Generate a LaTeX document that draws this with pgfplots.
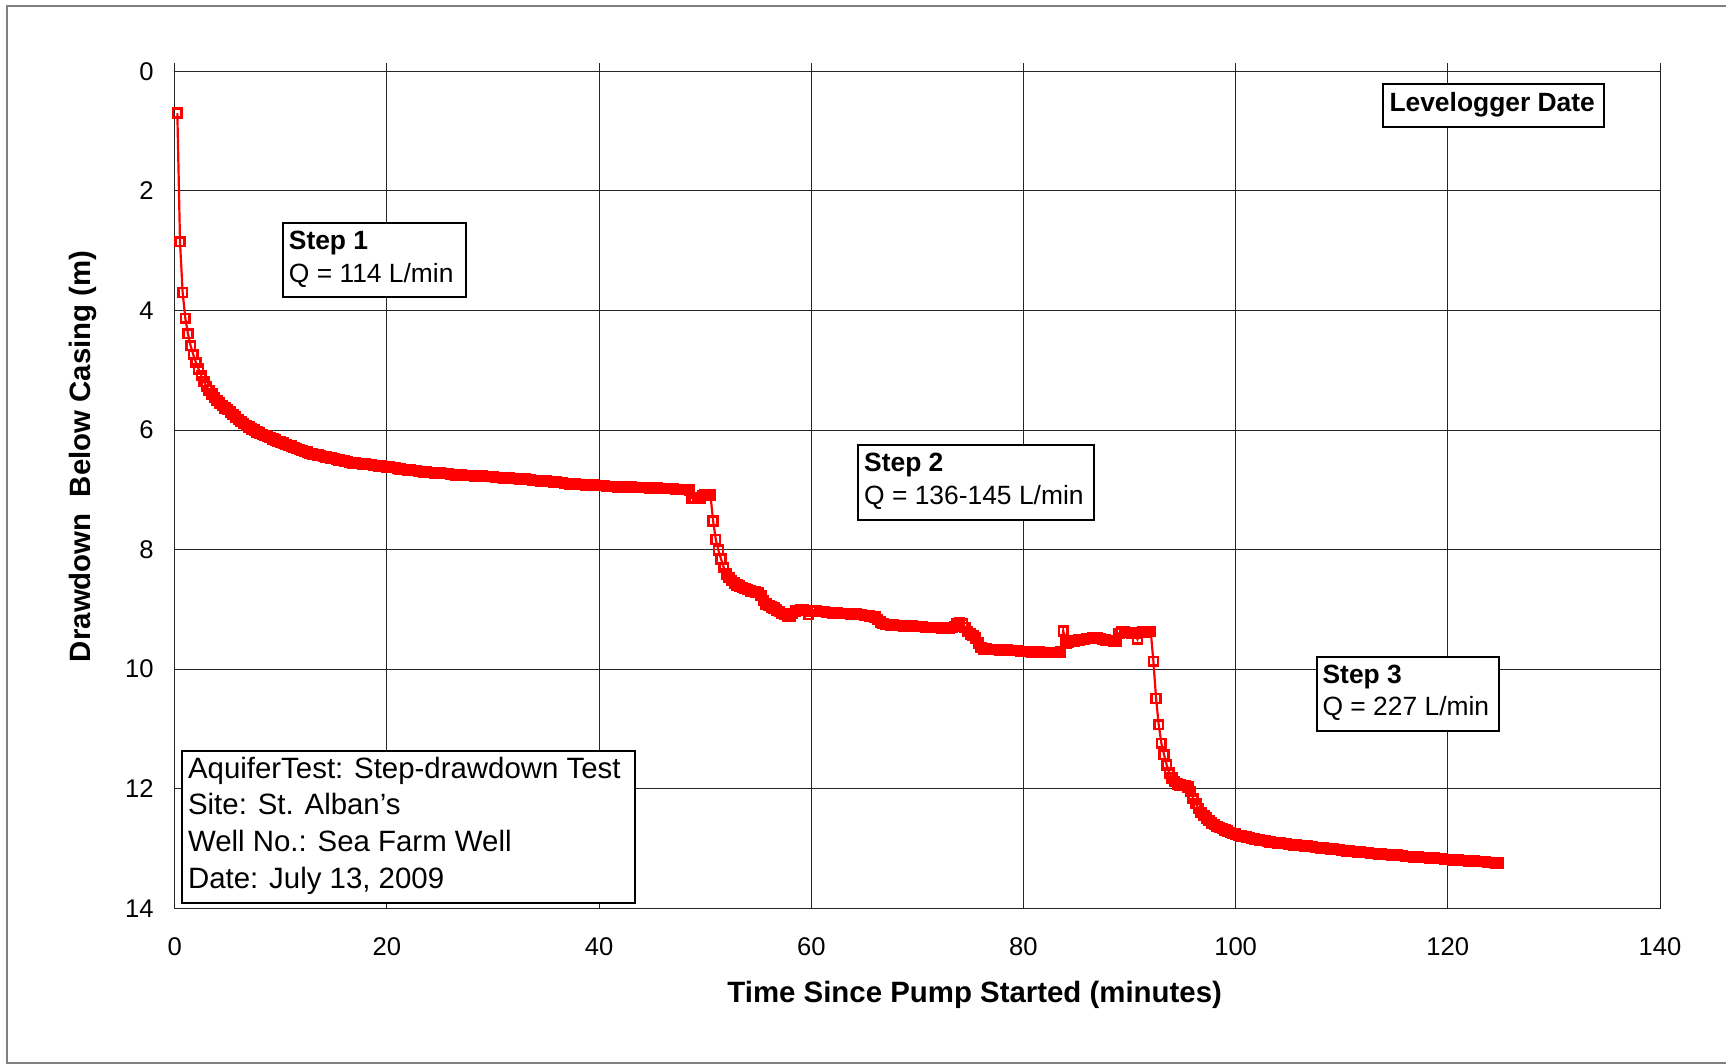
\documentclass[border=0pt]{standalone}
\usepackage{fontspec}
\setmainfont{Liberation Sans}
\usepackage{pgfplots}
\usepackage{pgfplotstable}
\pgfplotsset{compat=1.18}

\pgfplotstableread{
t d
0.25 0.70
0.50 2.85
0.75 3.70
1.00 4.13
1.25 4.39
1.50 4.59
1.75 4.74
2.00 4.87
2.25 4.98
2.50 5.09
2.75 5.19
3.00 5.27
3.25 5.34
3.50 5.40
3.75 5.46
4.00 5.51
4.25 5.55
4.50 5.59
4.75 5.63
5.00 5.66
5.25 5.70
5.50 5.74
5.75 5.78
6.00 5.82
6.25 5.86
6.50 5.89
6.75 5.92
7.00 5.95
7.25 5.98
7.50 6.00
7.75 6.03
8.00 6.05
8.25 6.07
8.50 6.09
8.75 6.11
9.00 6.13
9.25 6.15
9.50 6.17
9.75 6.19
10.00 6.20
10.25 6.22
10.50 6.24
10.75 6.26
11.00 6.27
11.25 6.29
11.50 6.31
11.75 6.33
12.00 6.34
12.25 6.36
12.50 6.37
12.75 6.39
13.00 6.40
13.25 6.41
13.50 6.42
13.75 6.43
14.00 6.44
14.25 6.45
14.50 6.46
14.75 6.47
15.00 6.48
15.25 6.49
15.50 6.50
15.75 6.51
16.00 6.52
16.25 6.53
16.50 6.54
16.75 6.55
17.00 6.55
17.25 6.56
17.50 6.56
17.75 6.57
18.00 6.57
18.25 6.58
18.50 6.58
18.75 6.59
19.00 6.59
19.25 6.60
19.50 6.60
19.75 6.61
20.00 6.62
20.25 6.62
20.50 6.63
20.75 6.63
21.00 6.64
21.25 6.65
21.50 6.66
21.75 6.66
22.00 6.67
22.25 6.67
22.50 6.68
22.75 6.68
23.00 6.69
23.25 6.69
23.50 6.70
23.75 6.70
24.00 6.71
24.25 6.71
24.50 6.72
24.75 6.72
25.00 6.72
25.25 6.73
25.50 6.73
25.75 6.73
26.00 6.74
26.25 6.74
26.50 6.75
26.75 6.75
27.00 6.75
27.25 6.76
27.50 6.76
27.75 6.76
28.00 6.76
28.25 6.77
28.50 6.77
28.75 6.77
29.00 6.77
29.25 6.78
29.50 6.78
29.75 6.78
30.00 6.78
30.25 6.79
30.50 6.79
30.75 6.79
31.00 6.80
31.25 6.80
31.50 6.80
31.75 6.81
32.00 6.81
32.25 6.81
32.50 6.82
32.75 6.82
33.00 6.82
33.25 6.83
33.50 6.83
33.75 6.84
34.00 6.84
34.25 6.84
34.50 6.85
34.75 6.85
35.00 6.85
35.25 6.86
35.50 6.86
35.75 6.87
36.00 6.87
36.25 6.88
36.50 6.88
36.75 6.89
37.00 6.89
37.25 6.90
37.50 6.90
37.75 6.90
38.00 6.91
38.25 6.91
38.50 6.91
38.75 6.92
39.00 6.92
39.25 6.92
39.50 6.92
39.75 6.93
40.00 6.93
40.25 6.93
40.50 6.93
40.75 6.94
41.00 6.94
41.25 6.94
41.50 6.94
41.75 6.95
42.00 6.95
42.25 6.95
42.50 6.95
42.75 6.95
43.00 6.95
43.25 6.96
43.50 6.96
43.75 6.96
44.00 6.96
44.25 6.96
44.50 6.96
44.75 6.97
45.00 6.97
45.25 6.97
45.50 6.97
45.75 6.98
46.00 6.98
46.25 6.98
46.50 6.98
46.75 6.98
47.00 6.98
47.25 6.99
47.50 6.99
47.75 6.99
48.00 6.99
48.25 6.99
48.50 7.00
48.75 7.14
49.00 7.15
49.25 7.15
49.50 7.14
49.75 7.10
50.00 7.09
50.25 7.09
50.50 7.09
50.75 7.52
51.00 7.83
51.25 8.01
51.50 8.16
51.75 8.30
52.00 8.41
52.25 8.47
52.50 8.52
52.75 8.56
53.00 8.59
53.25 8.61
53.50 8.63
53.75 8.65
54.00 8.67
54.25 8.69
54.50 8.70
54.75 8.71
55.00 8.72
55.25 8.77
55.50 8.85
55.75 8.91
56.00 8.94
56.25 8.96
56.50 8.98
56.75 9.01
57.00 9.04
57.25 9.07
57.50 9.09
57.75 9.11
58.00 9.11
58.25 9.07
58.50 9.03
58.75 9.02
59.00 9.01
59.25 9.01
59.50 9.02
59.75 9.09
60.00 9.03
60.25 9.03
60.50 9.03
60.75 9.04
61.00 9.04
61.25 9.04
61.50 9.05
61.75 9.05
62.00 9.06
62.25 9.06
62.50 9.06
62.75 9.07
63.00 9.07
63.25 9.07
63.50 9.07
63.75 9.08
64.00 9.08
64.25 9.08
64.50 9.09
64.75 9.09
65.00 9.10
65.25 9.10
65.50 9.11
65.75 9.12
66.00 9.13
66.25 9.17
66.50 9.21
66.75 9.24
67.00 9.25
67.25 9.25
67.50 9.26
67.75 9.26
68.00 9.27
68.25 9.27
68.50 9.27
68.75 9.28
69.00 9.28
69.25 9.28
69.50 9.28
69.75 9.29
70.00 9.29
70.25 9.29
70.50 9.29
70.75 9.30
71.00 9.30
71.25 9.30
71.50 9.30
71.75 9.30
72.00 9.30
72.25 9.31
72.50 9.31
72.75 9.31
73.00 9.31
73.25 9.30
73.50 9.29
73.75 9.24
74.00 9.22
74.25 9.24
74.50 9.30
74.75 9.37
75.00 9.41
75.25 9.44
75.50 9.48
75.75 9.56
76.00 9.64
76.25 9.66
76.50 9.66
76.75 9.67
77.00 9.67
77.25 9.67
77.50 9.67
77.75 9.68
78.00 9.68
78.25 9.68
78.50 9.68
78.75 9.69
79.00 9.69
79.25 9.69
79.50 9.69
79.75 9.70
80.00 9.70
80.25 9.70
80.50 9.70
80.75 9.71
81.00 9.71
81.25 9.71
81.50 9.71
81.75 9.72
82.00 9.72
82.25 9.72
82.50 9.72
82.75 9.72
83.00 9.72
83.25 9.72
83.50 9.71
83.75 9.36
84.00 9.56
84.25 9.55
84.50 9.54
84.75 9.53
85.00 9.52
85.25 9.51
85.50 9.50
85.75 9.50
86.00 9.49
86.25 9.49
86.50 9.48
86.75 9.48
87.00 9.48
87.25 9.49
87.50 9.50
87.75 9.51
88.00 9.52
88.25 9.52
88.50 9.53
88.75 9.53
89.00 9.40
89.25 9.38
89.50 9.38
89.75 9.39
90.00 9.39
90.25 9.40
90.50 9.40
90.75 9.50
91.00 9.39
91.25 9.38
91.50 9.38
91.75 9.37
92.00 9.37
92.25 9.87
92.50 10.49
92.75 10.93
93.00 11.24
93.25 11.43
93.50 11.60
93.75 11.74
94.00 11.82
94.25 11.88
94.50 11.92
94.75 11.94
95.00 11.95
95.25 11.95
95.50 11.97
95.75 12.05
96.00 12.16
96.25 12.25
96.50 12.33
96.75 12.40
97.00 12.45
97.25 12.49
97.50 12.53
97.75 12.57
98.00 12.60
98.25 12.63
98.50 12.65
98.75 12.67
99.00 12.69
99.25 12.71
99.50 12.73
99.75 12.75
100.00 12.76
100.25 12.78
100.50 12.79
100.75 12.80
101.00 12.81
101.25 12.82
101.50 12.83
101.75 12.84
102.00 12.85
102.25 12.86
102.50 12.87
102.75 12.87
103.00 12.88
103.25 12.89
103.50 12.90
103.75 12.90
104.00 12.91
104.25 12.91
104.50 12.92
104.75 12.92
105.00 12.93
105.25 12.93
105.50 12.94
105.75 12.94
106.00 12.95
106.25 12.95
106.50 12.96
106.75 12.96
107.00 12.97
107.25 12.97
107.50 12.98
107.75 12.98
108.00 12.99
108.25 12.99
108.50 13.00
108.75 13.00
109.00 13.01
109.25 13.01
109.50 13.02
109.75 13.02
110.00 13.03
110.25 13.03
110.50 13.04
110.75 13.04
111.00 13.05
111.25 13.05
111.50 13.06
111.75 13.06
112.00 13.07
112.25 13.07
112.50 13.07
112.75 13.08
113.00 13.08
113.25 13.08
113.50 13.09
113.75 13.09
114.00 13.10
114.25 13.10
114.50 13.10
114.75 13.11
115.00 13.11
115.25 13.11
115.50 13.12
115.75 13.12
116.00 13.13
116.25 13.13
116.50 13.13
116.75 13.14
117.00 13.14
117.25 13.14
117.50 13.15
117.75 13.15
118.00 13.15
118.25 13.16
118.50 13.16
118.75 13.16
119.00 13.17
119.25 13.17
119.50 13.17
119.75 13.18
120.00 13.18
120.25 13.18
120.50 13.19
120.75 13.19
121.00 13.19
121.25 13.20
121.50 13.20
121.75 13.20
122.00 13.21
122.25 13.21
122.50 13.21
122.75 13.22
123.00 13.22
123.25 13.22
123.50 13.22
123.75 13.23
124.00 13.23
124.25 13.23
124.50 13.24
124.75 13.24
}\drawdown

\begin{document}
\begin{tikzpicture}
% pixel frame: 1 px = 0.5pt, origin at top-left of the image
\begin{scope}[xshift=-87.35pt, yshift=454.15pt, x=0.5pt, y=-0.5pt]
\useasboundingbox (0,0) rectangle (1726,1064);
\fill[white] (0,0) rectangle (1726,1064);
\draw[line width=1pt, black!50] (6.7,6) rectangle (1780,1063);
\end{scope}

\begin{axis}[
  at={(0,0)}, anchor=south west,
  scale only axis, width=742.65pt, height=418.5pt,
  xmin=0, xmax=140, ymin=0, ymax=14,
  y dir=reverse,
  xtick={0,20,...,140}, ytick={0,2,...,14},
  grid=major,
  major grid style={black!85, line width=0.5pt},
  axis line style={black!85, line width=0.5pt},
  tick style={draw=none},
  clip=false,
  /pgf/number format/assume math mode=true,
  ticklabel style={font=\fontsize{12.8pt}{15pt}\selectfont},
  xticklabel style={anchor=center, inner sep=0pt, yshift=-19.2pt},
  yticklabel style={anchor=east, inner sep=0pt, xshift=-10.35pt},
]
\addplot[red, line width=1.1pt, mark=square, mark size=2.2pt,
  mark options={line width=1.3pt, solid}] table[x=t, y=d] {\drawdown};
\end{axis}

\begin{scope}[xshift=-87.35pt, yshift=454.15pt, x=0.5pt, y=-0.5pt]
% x tick marks above top axis
\foreach \k in {0,...,7} {
  \draw[black!85, line width=0.5pt] ({174.7+212.19*\k},71.3) -- ({174.7+212.19*\k},63);
}
% axis titles
\node[font=\fontsize{14.7pt}{17pt}\selectfont\bfseries, inner sep=0pt] at (974.7,995) {Time Since Pump Started (minutes)};
\node[font=\fontsize{14.7pt}{17pt}\selectfont\bfseries, inner sep=0pt, rotate=90] at (82.6,456.2) {Drawdown\ \ Below Casing (m)};
% boxes
\tikzset{bx/.style={draw=black, line width=1pt, fill=white},
  stp/.style={anchor=base west, inner sep=0pt, font=\fontsize{13.2pt}{16pt}\selectfont},
  inf/.style={anchor=base west, inner sep=0pt, font=\fontsize{14.7pt}{18pt}\selectfont}}
\draw[bx] (1382.5,84.3) rectangle (1604.3,126.7);
\node[stp, font=\fontsize{13.2pt}{16pt}\selectfont\bfseries] at (1389.1,111.7) {Levelogger Date};
\draw[bx] (283,223) rectangle (466,297);
\node[stp, font=\fontsize{13.2pt}{16pt}\selectfont\bfseries] at (288.5,249.7) {Step 1};
\node[stp] at (288.5,282.5) {Q = 114 L/min};
\draw[bx] (858.3,445) rectangle (1094,520);
\node[stp, font=\fontsize{13.2pt}{16pt}\selectfont\bfseries] at (863.8,471.7) {Step 2};
\node[stp] at (863.8,505) {Q = 136-145 L/min};
\draw[bx] (1316.7,657.3) rectangle (1499.3,731);
\node[stp, font=\fontsize{13.2pt}{16pt}\selectfont\bfseries] at (1322.2,683.3) {Step 3};
\node[stp] at (1322.2,716) {Q = 227 L/min};
\draw[bx] (181.7,751) rectangle (635,903.3);
\node[inf] at (187.7,778.3) {AquiferTest: Step-drawdown Test};
\node[inf] at (187.7,815) {Site: St. Alban's};
\node[inf] at (187.7,851.7) {Well No.: Sea Farm Well};
\node[inf] at (187.7,888.3) {Date: July 13, 2009};
\end{scope}
\end{tikzpicture}
\end{document}
